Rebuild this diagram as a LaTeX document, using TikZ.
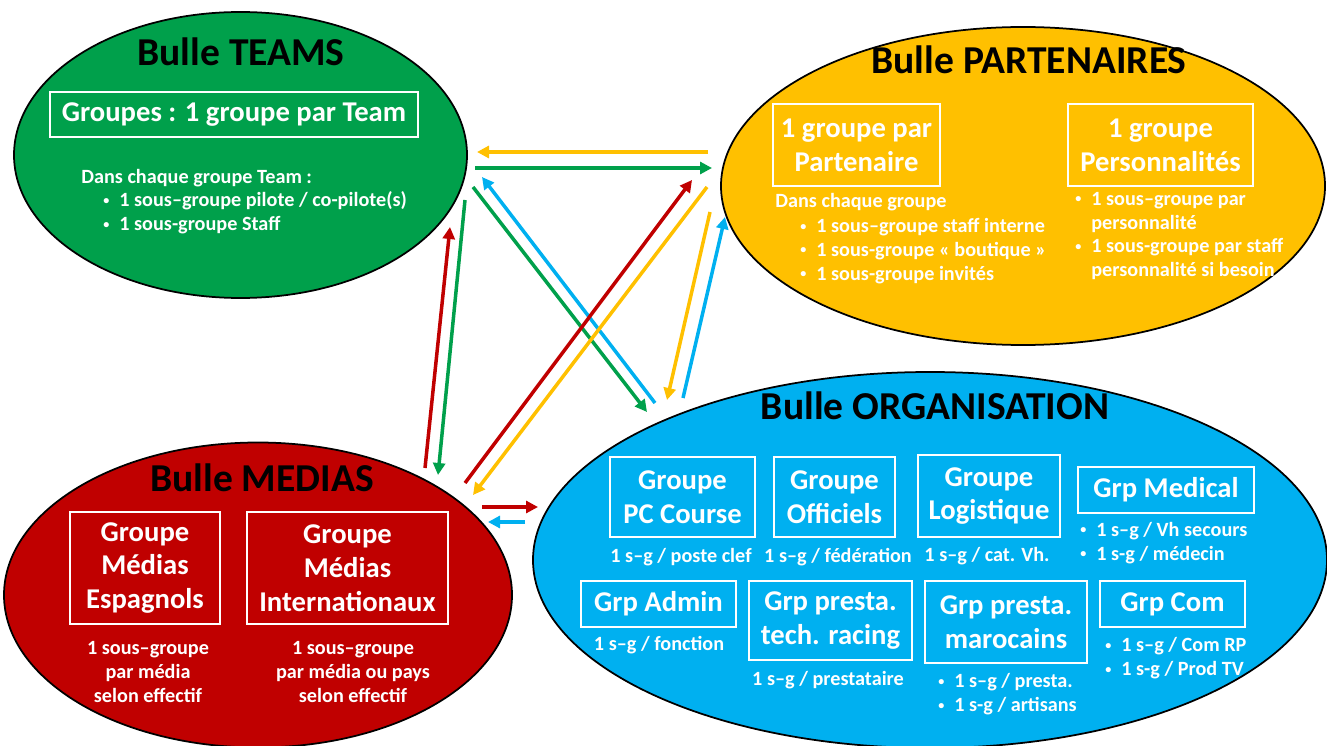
\documentclass[tikz,border=0pt]{standalone}
\usepackage{fontspec}
\setmainfont{Carlito}
\usetikzlibrary{shapes.geometric,arrows.meta}
\definecolor{vertteams}{RGB}{0,160,75}
\definecolor{jaunepart}{RGB}{255,192,0}
\definecolor{rougemedias}{RGB}{192,0,0}
\definecolor{bleuorga}{RGB}{0,176,240}
\newcommand{\puce}{\makebox[3.2mm][l]{\raisebox{0.25ex}{\scalebox{0.6}{\textbullet}}}}
\begin{document}
\begin{tikzpicture}[x=0.2mm,y=-0.2mm,
    bulle/.style={ellipse,draw=black,line width=0.35mm,inner sep=0pt,outer sep=0pt},
    titre/.style={font=\fontsize{22.5}{26}\selectfont\bfseries,text=black},
    groupe/.style={draw=white,line width=0.5mm,text=white,align=center,inner sep=0pt,font=\fontsize{16.3}{19.3}\selectfont\bfseries},
    detail/.style={text=white,inner sep=0pt,font=\fontsize{11.5}{13.6}\selectfont\bfseries},
    fleche/.style={line width=0.7mm,-{Triangle[length=2.4mm,width=2.4mm]}}]
    \useasboundingbox (0,0) rectangle (1327,746);
    \clip (0,0) rectangle (1327,746);
    % les quatre bulles
    \node [bulle,fill=vertteams,minimum width=90.6mm,minimum height=57.2mm] (teams) at (240.5,155) {};
    \node [bulle,fill=jaunepart,minimum width=120.8mm,minimum height=63.6mm] (partenaires) at (1023,186) {};
    \node [bulle,fill=rougemedias,minimum width=101.6mm,minimum height=61mm] (medias) at (258,595) {};
    \node [bulle,fill=bleuorga,minimum width=158.8mm,minimum height=75.2mm] (orga) at (930,560) {};
    \node [titre] (titreteams) at (241,52) {Bulle TEAMS};
    \node [titre] (titrepart) at (1029,60) {Bulle PARTENAIRES};
    \node [titre] (titremedias) at (262,478) {Bulle MEDIAS};
    \node [titre] (titreorga) at (935,406) {Bulle ORGANISATION};
    % teams
    \node [groupe,minimum width=73.6mm,minimum height=9mm] (grpteams) at (234,114.5) {Groupes : 1 groupe par Team};
    \node [detail,anchor=west] (dansteams) at (81,178) {Dans chaque groupe Team :};
    \node [detail,anchor=west,align=left] (listeteams) at (103,213) {\puce 1 sous–groupe pilote / co-pilote(s)\\\puce 1 sous-groupe Staff};
    % partenaires
    \node [groupe,minimum width=33.4mm,minimum height=16.4mm] (grppart) at (856.5,145) {1 groupe par\\Partenaire};
    \node [groupe,minimum width=37mm,minimum height=16.4mm] (grpperso) at (1160.5,145) {1 groupe\\Personnalités};
    \node [detail,anchor=west] (danspart) at (775,202) {Dans chaque groupe};
    \node [detail,anchor=west,align=left] (listepart) at (800,251) {\puce 1 sous–groupe staff interne\\\puce 1 sous-groupe « boutique »\\\puce 1 sous-groupe invités};
    \node [detail,anchor=west,align=left] (listeperso) at (1075,236) {\puce 1 sous–groupe par\\\hspace*{3.2mm}personnalité\\\puce 1 sous-groupe par staff\\\hspace*{3.2mm}personnalité si besoin};
    % medias
    \node [groupe,minimum width=30mm,minimum height=22.4mm] (grpesp) at (145,568) {Groupe\\Médias\\Espagnols};
    \node [groupe,minimum width=40.2mm,minimum height=22.4mm] (grpinter) at (347.5,568) {Groupe\\Médias\\Internationaux};
    \node [detail,align=center] (sousesp) at (148,672) {1 sous–groupe\\par média\\selon effectif};
    \node [detail,align=center] (sousinter) at (353,672) {1 sous–groupe\\par média ou pays\\selon effectif};
    % organisation
    \node [groupe,minimum width=29mm,minimum height=16mm] (grppc) at (682.5,497) {Groupe\\PC Course};
    \node [groupe,minimum width=24.2mm,minimum height=16mm] (grpoff) at (834.5,497) {Groupe\\Officiels};
    \node [groupe,minimum width=28.4mm,minimum height=16.4mm] (grplog) at (989,496) {Groupe\\Logistique};
    \node [groupe,minimum width=35.2mm,minimum height=9.2mm] (grpmed) at (1166,490) {Grp Medical};
    \node [detail] (sgpc) at (681,557) {1 s–g / poste clef};
    \node [detail] (sgoff) at (838,557) {1 s–g / fédération};
    \node [detail] (sglog) at (987,556) {1 s–g / cat. Vh.};
    \node [detail,anchor=west,align=left] (sgmed) at (1080,543) {\puce 1 s–g / Vh secours\\\puce 1 s-g / médecin};
    \node [groupe,minimum width=31mm,minimum height=9.2mm] (grpadmin) at (658.5,604) {Grp Admin};
    \node [groupe,minimum width=32.6mm,minimum height=15.8mm] (grptech) at (830.5,620.5) {Grp presta.\\tech. racing};
    \node [groupe,minimum width=32.4mm,minimum height=16.4mm] (grpmaroc) at (1006,622) {Grp presta.\\marocains};
    \node [groupe,minimum width=29mm,minimum height=9.2mm] (grpcom) at (1172.5,604) {Grp Com};
    \node [detail] (sgadmin) at (659,645) {1 s–g / fonction};
    \node [detail] (sgtech) at (828,680) {1 s–g / prestataire};
    \node [detail,anchor=west,align=left] (sgmaroc) at (938,694.5) {\puce 1 s–g / presta.\\\puce 1 s-g / artisans};
    \node [detail,anchor=west,align=left] (sgcom) at (1105,658.5) {\puce 1 s–g / Com RP\\\puce 1 s-g / Prod TV};
    % bouts des fleches
    \coordinate (pt-a) at (708,152); \coordinate (pt-b) at (477,152);
    \coordinate (tp-a) at (475,168); \coordinate (tp-b) at (712,168);
    \coordinate (ot-a) at (655,403); \coordinate (ot-b) at (482,177);
    \coordinate (to-a) at (473,187); \coordinate (to-b) at (647,412);
    \coordinate (mp-a) at (465,483); \coordinate (mp-b) at (692,180);
    \coordinate (pm-a) at (707,187); \coordinate (pm-b) at (473,495);
    \coordinate (po-a) at (710,212); \coordinate (po-b) at (667,400);
    \coordinate (op-a) at (683,398); \coordinate (op-b) at (725,217);
    \coordinate (mt-a) at (425,468); \coordinate (mt-b) at (450,227);
    \coordinate (tm-a) at (465,200); \coordinate (tm-b) at (438,475);
    \coordinate (mo-a) at (482,507); \coordinate (mo-b) at (538,507);
    \coordinate (om-a) at (525,522); \coordinate (om-b) at (488,522);
    \draw [fleche,jaunepart] (pt-a) -- (pt-b);
    \draw [fleche,vertteams] (tp-a) -- (tp-b);
    \draw [fleche,bleuorga] (ot-a) -- (ot-b);
    \draw [fleche,vertteams] (to-a) -- (to-b);
    \draw [fleche,rougemedias] (mp-a) -- (mp-b);
    \draw [fleche,jaunepart] (pm-a) -- (pm-b);
    \draw [fleche,jaunepart] (po-a) -- (po-b);
    \draw [fleche,bleuorga] (op-a) -- (op-b);
    \draw [fleche,rougemedias] (mt-a) -- (mt-b);
    \draw [fleche,vertteams] (tm-a) -- (tm-b);
    \draw [fleche,rougemedias] (mo-a) -- (mo-b);
    \draw [fleche,bleuorga] (om-a) -- (om-b);
\end{tikzpicture}
\end{document}
